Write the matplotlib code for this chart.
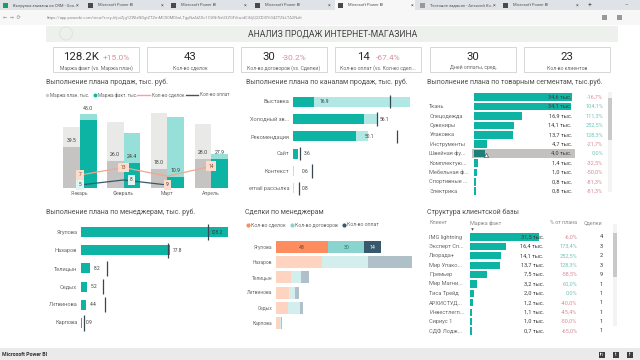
import numpy as np
import matplotlib
matplotlib.use("Agg")
import matplotlib.pyplot as plt
from matplotlib.patches import Rectangle

plt.rcParams['font.family'] = ['Roboto', 'DejaVu Sans']

W, H = 640, 360
TEAL = '#0db3a3'
TEAL_L = '#97e0d9'
GREY_TXT = '#6a6a6a'
DARK_TXT = '#3c3c3c'
RED = '#da8f9b'
GREEN = '#72c6bb'
TITLE_SIZE = 5.0

# karty na gorze
card_values = ['128.2K', '43', '30', '14', '30', '23']
card_deltas = ['+15.0%', '', '-30.2%', '-67.4%', '', '']
card_labels = ['Маржа факт (vs. Маржа план)', 'Кол-во сделок', 'Кол-во договоров (vs. Сделки)',
               'Кол-во оплат (vs. Кол-во сдел...', 'Дней оплаты, сред.', 'Кол-во клиентов']

# wykres 1
months = ['Январь', 'Февраль', 'Март', 'Апрель']
plan_total = [61, 66, 75, 64]
plan_hl = [41, 27, 19, 29]
fact_total = [74, 55, 71, 34]
fact_hl = [68, 25, 11, 29]
plan_labels = ['39.5', '26.0', '18.0', '28.0']
fact_labels = ['45.0', '24.4', '10.9', '27.9']
deals = [7, 13, 6, 14]
pays = [5, 8, 5]
deals_labels = ['7', '13', '', '14']
pays_labels = ['5', '8', '9']

# wykres 2
channels = ['Выставка', 'Холодный зв...', 'Рекомендация', 'Сайт', 'Контекст', 'email рассылка']
chan_total = [78, 56.1, 50.1, 3.6, 0.6, 0.8]
chan_hl = [14.2, 47, 42, 3.6, 0, 0]
chan_target = [64.7, 56.3, 69.3, 4.7, 12.7, 4.3]
chan_labels = ['16.9', '56.1', '50.1', '3.6', '0.6', '0.8']

# wykres 3
segments = ['', 'Ткань', 'Спецодежда', 'Сувениры', 'Упаковка', 'Инструменты', 'Швейная фу...',
            'Комплектую...', 'Мебельная ф...', 'Спортивные ...', 'Электрика']
seg_values = [34.6, 34.1, 16.9, 14.1, 13.7, 4.7, 4.0, 1.4, 1.0, 0.8, 0.8]
seg_pct = ['-16,7%', '104,1%', '111,3%', '252,5%', '128,3%', '-21,7%', '0,0%', '-32,5%', '-50,0%', '-81,3%', '-81,3%']

# wykres 4
managers = ['Ягупова', 'Назаров', 'Телицын', 'Седых', 'Литвинова', 'Карпова']
man_values = [128.2, 77.8, 8.2, 5.2, 4.4, 0.9]
man_target = [111, 75.5, 23.2, 19.5, 21.5, 3.2]

# wykres 5
deal_managers = ['Ягупова', 'Назаров', 'Телицын', 'Литвинова', 'Седых', 'Карпова']
deal_a = [43, 38, 12, 11, 10, 3]
deal_b = [30, 38, 9, 5, 10, 1]
deal_c = [14, 36, 6, 3, 2, 1]

# tabela
clients = ['IMG lightning', 'Эксперт Сп...', 'Леорада+', 'Мир Упако...', 'Премьер', 'Мир Магни...',
           'Тиса Трейд', 'АРХИСТУД...', 'Инвестлегп...', 'Сириус 1', 'СДФ Лодж...']
client_values = [31.5, 16.4, 14.1, 13.7, 7.5, 3.2, 2.0, 1.2, 1.1, 1.0, 0.7]
client_pct = ['-6,0%', '173,4%', '252,5%', '128,3%', '-58,5%', '60,0%', '0,0%', '-40,0%', '-45,4%', '-50,0%', '-65,0%']
client_deals = [4, 3, 2, 3, 9, 1, 1, 1, 1, 1, 1]

tab_names = ['Выгрузка заказов из CRM - Goo...', 'Microsoft Power BI', 'Microsoft Power BI', 'Microsoft Power BI',
             'Microsoft Power BI', 'Тестовое задание - Алексей Ко...', 'Microsoft Power BI']
url = 'https://app.powerbi.com/view?r=eyJrIjoiZjg1ZWIxNDgtZTZmMC00MDIwLTgyNzAtZDc1OGNiNzU3ZGFiIiwidCI6IjQ2ZDI0Yi04ZTZkLTA2NzIt'

fig = plt.figure(figsize=(W / 100, H / 100), dpi=100, facecolor='white')

# warstwa w pikselach na cala reszte
ui = fig.add_axes([0, 0, 1, 1])
ui.set_xlim(0, W)
ui.set_ylim(H, 0)
ui.axis('off')


def px_axes(x0, y0, x1, y1):
    ax = fig.add_axes([x0 / W, 1 - y1 / H, (x1 - x0) / W, (y1 - y0) / H])
    ax.axis('off')
    ax.patch.set_alpha(0)
    return ax


def rect(x0, y0, x1, y1, **kw):
    ui.add_patch(Rectangle((x0, y0), x1 - x0, y1 - y0, **kw))


def txt(x, y, s, size=4.5, color=GREY_TXT, ha='left', **kw):
    ui.text(x, y, s, fontsize=size, color=color, ha=ha, va='center', **kw)


# przegladarka
rect(0, 0, W, 10, fc='#dfe2e6', lw=0)
rect(0, 10, W, 25, fc='#f7f7f7', lw=0)
tab_x = [0, 85, 168, 252, 335, 417, 500]
for i, name in enumerate(tab_names):
    if i == 4:
        rect(tab_x[i], 0, tab_x[i] + 80, 10, fc='#f7f7f7', lw=0)
    col = '#1e9e5e' if i == 0 else ('#999999' if i == 5 else '#4a4a4a')
    rect(tab_x[i] + 3, 3, tab_x[i] + 8, 8, fc=col, lw=0)
    txt(tab_x[i] + 13, 5.5, name, size=3, color='#555555')
    txt(tab_x[i] + 76, 5.5, '×', size=3.8, color='#555555')
txt(588, 5.5, '+', size=5, color='#555555')
txt(625, 5, '–', size=4, color='#555555')
txt(3, 17.5, '←  →  ⟳', size=3.6, color='#888888')
txt(47, 17.5, url, size=2.95, color='#8a8a8a')
rect(602, 15, 607, 20, fc='#999999', lw=0)
rect(617, 15, 622, 20, fc='#999999', lw=0)
rect(0, 24.5, W, 25, fc='#d8d8d8', lw=0)

# naglowek
rect(46, 25.5, 618, 42, fc='#eef0ee', lw=0)
ui.add_patch(plt.Circle((66, 33.5), 6.5, fc='none', ec='#e2e4e2', lw=0.8))
txt(333, 33.5, 'АНАЛИЗ ПРОДАЖ ИНТЕРНЕТ-МАГАЗИНА', size=6.2, color='#444444', ha='center')

# karty
card_x = [53, 147, 241, 335, 430, 524]
for i in range(6):
    x0 = card_x[i]
    rect(x0, 47, x0 + 86, 72, fc='white', ec='#d6d6d6', lw=0.7)
    if card_deltas[i]:
        txt(x0 + 28, 57, card_values[i], size=8.2, color='#2a2a2a', ha='center')
        dx = 50 if len(card_values[i]) > 2 else 41
        txt(x0 + dx, 57.5, card_deltas[i], size=6, color=RED)
    else:
        txt(x0 + 43, 57, card_values[i], size=8.2, color='#2a2a2a', ha='center')
    txt(x0 + 43, 68, card_labels[i], size=3.7, ha='center')

# wykres 1
txt(46, 82, 'Выполнение плана продаж, тыс. руб.', size=TITLE_SIZE, color='#505050')
ui.plot(47, 95, 'o', ms=2.4, color='#c9c8c6', mew=0)
txt(50, 95, 'Маржа план. тыс.', size=3.4)
ui.plot(95, 95, 'o', ms=2.8, color=TEAL, mew=0)
txt(98, 95, 'Маржа факт. тыс.', size=3.4)
ui.plot([137, 150], [95, 95], color='#f0a78c', lw=1)
txt(152, 95, 'Кол-во сделок', size=3.4)
ui.plot([186, 198], [95, 95], color='#37596b', lw=1)
txt(200, 95, 'Кол-во оплат', size=3.4)

ax1 = px_axes(58, 100, 233, 188)
xm = np.arange(len(months))
bw = 0.38
ax1.bar(xm - bw / 2, plan_total, bw, color='#e9e9e7')
ax1.bar(xm - bw / 2, plan_hl, bw, color='#c5c4c2')
ax1.bar(xm + bw / 2, fact_total, bw, color=TEAL_L)
ax1.bar(xm + bw / 2, fact_hl, bw, color=TEAL)
ax1.set_xlim(-0.5, 3.5)
ax1.set_ylim(0, 88)
for i in range(4):
    ax1.text(i - bw / 2, plan_hl[i] + 6, plan_labels[i], fontsize=3.7, color=DARK_TXT, ha='center', va='center')
    fy = fact_total[i] if i == 0 else fact_hl[i]
    ax1.text(i + bw / 2, fy + 6, fact_labels[i], fontsize=3.7, color=DARK_TXT, ha='center', va='center', clip_on=False)
    ax1.text(i, -5, months[i], fontsize=3.7, color=GREY_TXT, ha='center', va='center', clip_on=False)

# linie maja swoje skale
ax1a = px_axes(58, 100, 233, 188)
ax1a.set_xlim(-0.5, 3.5)
ax1a.set_ylim(-3.4, 67)
ax1a.plot(xm, deals, color='#f0a78c', lw=0.9)
ax1b = px_axes(58, 100, 233, 188)
ax1b.set_xlim(-0.5, 3.5)
ax1b.set_ylim(3.2, 55.9)
ax1b.plot(xm[:3], pays, color='#37596b', lw=0.9)
for i in range(4):
    if deals_labels[i]:
        ax1a.text(i, deals[i], deals_labels[i], fontsize=3.5, color='#8a4a30', ha='center', va='center',
                  bbox=dict(boxstyle='square,pad=0.5', fc='#fbdccd', ec='none'))
for i in range(3):
    col = '#fbdccd' if i == 2 else '#dff5f2'
    ax1b.text(i + (0.18 if i == 1 else 0), pays[i], pays_labels[i], fontsize=3.5, color=DARK_TXT, ha='center',
              va='center', bbox=dict(boxstyle='square,pad=0.5', fc=col, ec='none'))

# wykres 2
txt(246, 82, 'Выполнение плана по каналам продаж, тыс. руб.', size=TITLE_SIZE, color='#505050')
ax2 = px_axes(293, 93, 413, 197)
yc = np.arange(len(channels))
ax2.barh(yc, chan_total, 0.58, color='#b2e8e3')
ax2.barh(yc, chan_hl, 0.58, color=TEAL)
ax2.vlines(chan_target, yc - 0.38, yc + 0.38, color='#37474f', lw=0.9)
ax2.set_xlim(0, 80)
ax2.set_ylim(5.5, -0.5)
chan_txt_x = [17.5, 57.5, 47.5, 7, 5.5, 6]
for i in range(6):
    ax2.text(-2.5, i, channels[i], fontsize=4.1, color=GREY_TXT, ha='right', va='center', clip_on=False)
    ax2.text(chan_txt_x[i], i, chan_labels[i], fontsize=3.5, color=DARK_TXT, va='center')

# wykres 3
txt(427, 82, 'Выполнение плана по товарным сегментам, тыс.руб.', size=TITLE_SIZE, color='#505050')
rect(472, 149, 575, 157.5, fc='#c2c1bf', lw=0)
ax3 = px_axes(474, 92.5, 574, 195.9)
ys = np.arange(len(segments))
bar_cols = [TEAL] * 11
bar_cols[6] = '#1f7f76'
ax3.barh(ys, seg_values, 0.8, color=bar_cols)
ax3.set_xlim(0, 100 / 2.83)
ax3.set_ylim(10.5, -0.5)
for i in range(11):
    ax3.text(-15.8, i, segments[i], fontsize=4.1, color=GREY_TXT, va='center', clip_on=False)
    ax3.text(34.6, i, str(seg_values[i]).replace('.', ',') + ' тыс.', fontsize=4.1, color=DARK_TXT, ha='right', va='center')
    col = RED if seg_pct[i].startswith('-') else GREEN
    ax3.text(45.6, i, seg_pct[i], fontsize=4.1, color=col, ha='right', va='center', clip_on=False)
rect(608, 92, 612, 192, fc='#f3f3f3', lw=0)
rect(608, 98, 612, 140, fc='#c9c9c9', lw=0)
ui.plot([486], [155], marker='^', ms=3, color='white', mec='#333333', mew=0.4, zorder=5)

# wykres 4
txt(46, 212, 'Выполнение плана по менеджерам, тыс. руб.', size=TITLE_SIZE, color='#505050')
ax4 = px_axes(80.7, 223, 235, 332)
ym = np.arange(len(managers))
ax4.barh(ym, man_values, 0.55, color=TEAL)
ax4.vlines(man_target, ym - 0.42, ym + 0.42, color='#37474f', lw=0.9)
ax4.set_xlim(0, 154.3 / 1.15)
ax4.set_ylim(5.5, -0.5)
man_txt_x = [118, 84.5, 14, 11.5, 10.5, 7]
for i in range(6):
    ax4.text(-3, i, managers[i], fontsize=4.1, color=GREY_TXT, ha='right', va='center', clip_on=False)
    ax4.text(man_txt_x[i], i, f'{man_values[i]:.1f}', fontsize=3.5, color=DARK_TXT, ha='center', va='center')

# wykres 5
txt(245, 212, 'Сделки по менеджерам', size=TITLE_SIZE, color='#505050')
legend_x = [248, 292, 344]
legend_cols = ['#fd8d5e', '#8ad4cf', '#37596b']
legend_names = ['Кол-во сделок', 'Кол-во договоров', 'Кол-во оплат']
for i in range(3):
    ui.plot(legend_x[i], 225, 'o', ms=3, color=legend_cols[i], mew=0)
    txt(legend_x[i] + 3, 225, legend_names[i], size=3.7)
ax5 = px_axes(276, 239.4, 416, 330.6)
yd = np.arange(len(deal_managers))
a = np.array(deal_a)
b = np.array(deal_b)
c = np.array(deal_c)
ca = ['#fd8d5e'] + ['#fed3c0'] * 5
cb = ['#8ad4cf'] + ['#d3eeec'] * 5
cc = ['#37596b'] + ['#afc0c8'] * 5
ax5.barh(yd, a, 0.8, color=ca)
ax5.barh(yd, b, 0.8, left=a, color=cb)
ax5.barh(yd, c, 0.8, left=a + b, color=cc)
ax5.set_xlim(0, 140 / 1.21)
ax5.set_ylim(5.5, -0.5)
ax5.text(a[0] / 2, 0, str(a[0]), fontsize=3.7, color='#6b3a22', ha='center', va='center')
ax5.text(a[0] + b[0] / 2, 0, str(b[0]), fontsize=3.7, color='#2f6662', ha='center', va='center')
ax5.text(a[0] + b[0] + c[0] / 2, 0, str(c[0]), fontsize=3.7, color='white', ha='center', va='center')
for i in range(6):
    ax5.text(-3.3, i, deal_managers[i], fontsize=3.5, color=GREY_TXT, ha='right', va='center', clip_on=False)

# tabela klientow
txt(427, 212, 'Структура клиентской базы', size=TITLE_SIZE, color='#505050')
txt(429, 223, 'Клиент', size=3.9, color='#8a8a8a')
txt(470, 223, 'Маржа факт', size=3.9, color='#8a8a8a')
txt(577, 223, '% от плана', size=3.9, color='#8a8a8a', ha='right')
txt(602, 223, 'Сделки', size=3.9, color='#8a8a8a', ha='right')
ui.plot([472], [229], marker='v', ms=1.8, color='#444444', mew=0)
ax6 = px_axes(470, 232.3, 545, 335.7)
yt = np.arange(len(clients))
ax6.barh(yt, client_values, 0.78, color=TEAL)
ax6.set_xlim(0, 75 / 2.2)
ax6.set_ylim(10.5, -0.5)
for i in range(11):
    ax6.text(-18.6, i, clients[i], fontsize=4.1, color=GREY_TXT, va='center', clip_on=False)
    ax6.text(33.6, i, str(client_values[i]).replace('.', ',') + ' тыс.', fontsize=4.1, color=DARK_TXT, ha='right', va='center')
    col = RED if client_pct[i].startswith('-') else GREEN
    ax6.text(48.9, i, client_pct[i], fontsize=4.1, color=col, ha='right', va='center', clip_on=False)
    ax6.text(60.3, i, str(client_deals[i]), fontsize=4.1, color=DARK_TXT, ha='right', va='center', clip_on=False)
rect(613, 224, 617, 326, fc='#f3f3f3', lw=0)
rect(613, 233, 617, 277, fc='#c9c9c9', lw=0)

# stopka
rect(0, 348, W, H, fc='#eaeaea', lw=0)
txt(2, 354, 'Microsoft Power BI', size=3.8, color='#333333', fontweight='bold')
for cx, s in zip([602, 616, 630], ['in', 't', 'f']):
    rect(cx - 3, 352, cx + 3, 358, fc='#3d3d3d', lw=0)
    txt(cx, 355, s, size=3.4, color='white', ha='center')

fig.savefig('out.png', dpi=100)
